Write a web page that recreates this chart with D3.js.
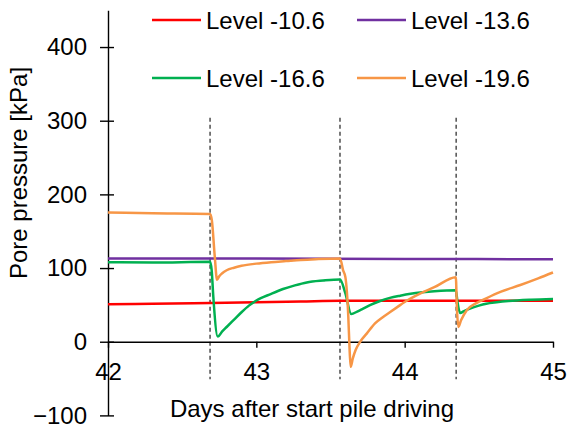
<!DOCTYPE html>
<html>
<head>
<meta charset="utf-8">
<script src="https://cdn.jsdelivr.net/npm/d3@7"></script>
<style>
  html, body { margin: 0; padding: 0; background: #fff; }
  svg { display: block; }
  text { font-family: "Liberation Sans", Arial, sans-serif; fill: #000; }
</style>
</head>
<body>
<svg id="chart" width="568" height="428"></svg>
<script>
// ---- data ----
const yTicks = [-100, 0, 100, 200, 300, 400];
const xTicks = [42, 43, 44, 45];
const driveDays = [42.688, 43.564, 44.347];
const seriesNames = ["Level -10.6", "Level -13.6", "Level -16.6", "Level -19.6"];
const seriesColors = ["#FF0000", "#7030A0", "#00B050", "#F79646"];

const redDays = [42, 42.3, 42.688, 43.0, 43.3, 43.564, 44.0, 44.5, 45];
const redVals = [51, 51.5, 52.5, 53.5, 54.5, 55.5, 55.5, 55.5, 55.5];

const purpleDays = [42, 43, 44, 45];
const purpleVals = [113, 112.8, 112.3, 112];

const greenDays = [42, 42.3, 42.688, 42.699, 42.71, 42.74, 42.77, 42.8, 42.85, 42.9, 42.95, 43.0, 43.1, 43.18, 43.26, 43.34, 43.45, 43.564,
                   43.6, 43.64, 43.68, 43.72, 43.77, 43.83, 43.9, 43.97, 44.04, 44.12, 44.2, 44.345,
                   44.356, 44.374, 44.4, 44.44, 44.5, 44.55, 44.62, 44.7, 44.85, 45];
const greenVals = [108, 107.5, 108.5, 97, 61, 7, 14, 20, 30, 40, 49, 56, 65, 71.5, 76.5, 80.5, 83, 84.5,
                   66, 37.5, 41, 45, 50, 55, 59.5, 62.5, 65, 67, 68.5, 70,
                   54, 39, 41.5, 45, 49, 51.5, 53.5, 55.2, 57, 58];

const orangeDays = [42, 42.3, 42.688, 42.7, 42.72, 42.735, 42.75, 42.77, 42.8, 42.85, 42.9, 43.0, 43.1, 43.2, 43.3, 43.4, 43.564,
                    43.585, 43.6, 43.62, 43.628, 43.636, 43.65, 43.67, 43.7, 43.744, 43.8, 43.85, 43.9, 43.95, 44.0, 44.1, 44.2, 44.345,
                    44.352, 44.362, 44.38, 44.42, 44.48, 44.55, 44.65, 44.78, 44.9, 45];
const orangeVals = [175.5, 174.5, 173.5, 165, 115, 84, 89, 93, 97, 100.5, 103, 106, 108, 109.5, 111, 112, 113,
                    97, 88, 34, -7, -34, -23, -11, 0, 11, 25, 33, 40, 47, 54, 65, 74, 87.5,
                    47, 20, 29, 43, 52, 59, 68, 77, 86, 94];

const seriesDays = [redDays, purpleDays, greenDays, orangeDays];
const seriesVals = [redVals, purpleVals, greenVals, orangeVals];

// ---- chart ----
const svg = d3.select("#chart");
const x = d3.scaleLinear().domain([42, 45]).range([108, 553]);
const y = d3.scaleLinear().domain([-100, 450]).range([415.4, 10.2]);
const FS = 24;

// dashed driving lines
svg.append("g").selectAll("line").data(driveDays).join("line")
  .attr("x1", d => x(d)).attr("x2", d => x(d))
  .attr("y1", y(304)).attr("y2", y(-51))
  .attr("stroke", "#333").attr("stroke-width", 1.3)
  .attr("stroke-dasharray", "4,3");

// x axis at y=0
const xAxis = svg.append("g")
  .attr("transform", `translate(0,${y(0)})`)
  .call(d3.axisBottom(x).tickValues(xTicks).tickFormat(d3.format("d"))
        .tickSizeInner(6).tickSizeOuter(0).tickPadding(15));
xAxis.selectAll("text").attr("font-size", FS).style("font-family", '"Liberation Sans", Arial, sans-serif');
xAxis.selectAll("line, path").attr("stroke", "#000").attr("stroke-width", 1.4);

// y axis at x=42
const yAxis = svg.append("g")
  .attr("transform", `translate(${x(42)},0)`)
  .call(d3.axisLeft(y).tickValues(yTicks).tickFormat(d3.format("d"))
        .tickSizeInner(8).tickSizeOuter(0).tickPadding(13));
yAxis.selectAll(".tick").append("line").attr("x1", 0).attr("x2", 6);
yAxis.selectAll("text").attr("font-size", FS).style("font-family", '"Liberation Sans", Arial, sans-serif');
yAxis.selectAll("line, path").attr("stroke", "#000").attr("stroke-width", 1.4);

// series
const line = d3.line().x(d => x(d[0])).y(d => y(d[1])).curve(d3.curveMonotoneX);
seriesNames.forEach((name, i) => {
  const pts = seriesDays[i].map((d, j) => [d, seriesVals[i][j]]);
  svg.append("path").datum(pts)
    .attr("d", line)
    .attr("fill", "none")
    .attr("stroke", seriesColors[i])
    .attr("stroke-width", 2.5)
    .attr("stroke-linejoin", "round");
});

// legend
const legendPos = [[152, 20], [357, 20], [152, 78], [357, 78]];
seriesNames.forEach((name, i) => {
  const [lx, ly] = legendPos[i];
  svg.append("line").attr("x1", lx).attr("x2", lx + 49).attr("y1", ly).attr("y2", ly)
    .attr("stroke", seriesColors[i]).attr("stroke-width", 2.5);
  svg.append("text").attr("x", lx + 54).attr("y", ly + 8.5)
    .attr("font-size", FS).text(name);
});

// axis titles
svg.append("text").attr("x", 312).attr("y", 417).attr("text-anchor", "middle")
  .attr("font-size", FS).text("Days after start pile driving");
svg.append("text").attr("transform", "translate(27,173) rotate(-90)")
  .attr("text-anchor", "middle").attr("font-size", FS).text("Pore pressure [kPa]");
</script>
</body>
</html>
